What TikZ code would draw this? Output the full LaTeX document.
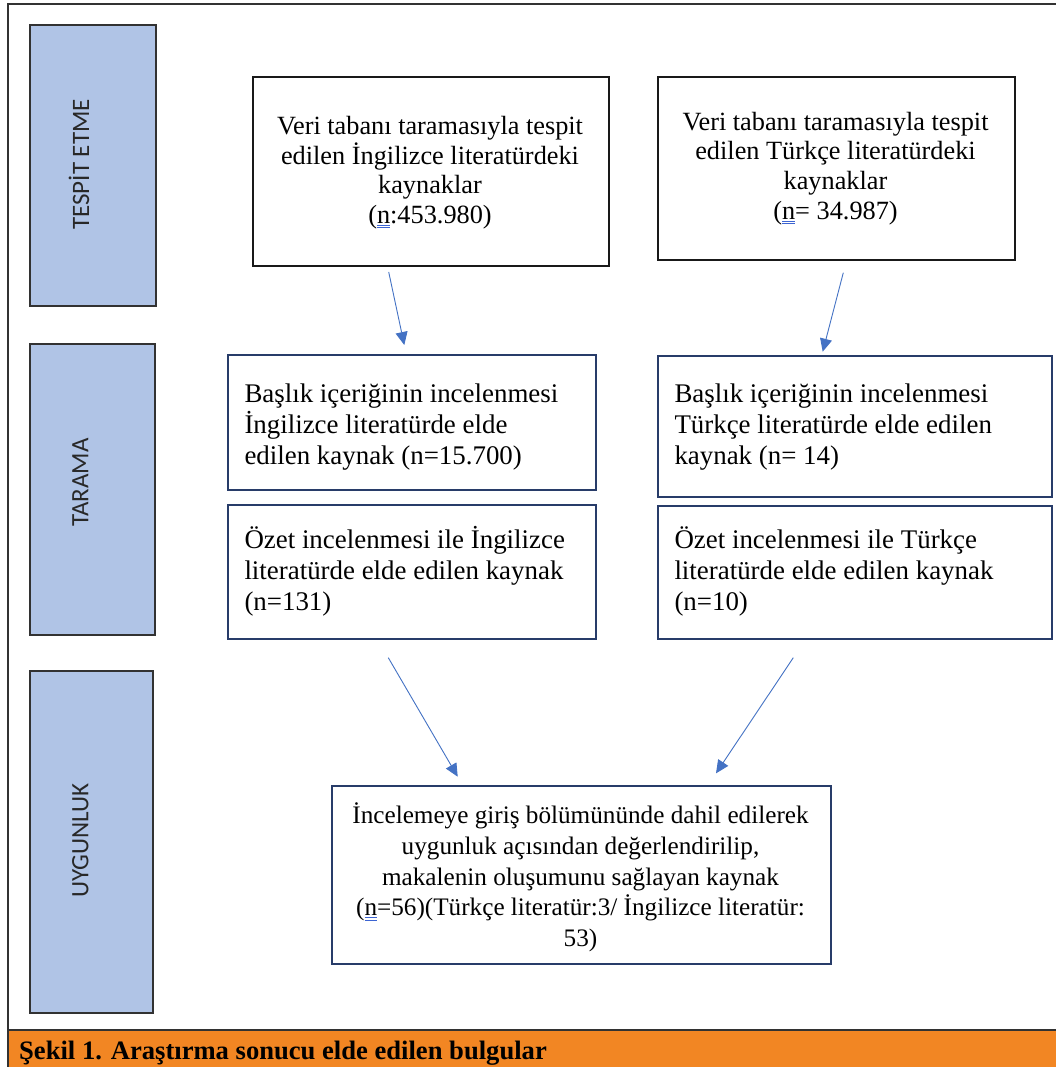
\documentclass[tikz,border=0pt]{standalone}
\usepackage{fontspec}
\setmainfont{Liberation Serif}
\newfontfamily\sidefont{Carlito}
\usetikzlibrary{arrows.meta,calc}
\definecolor{sidefill}{RGB}{176,196,230}
\definecolor{navy}{RGB}{40,60,105}
\definecolor{arrblue}{RGB}{68,114,196}
\definecolor{capor}{RGB}{242,134,35}
\definecolor{framec}{RGB}{50,50,50}
\definecolor{ulblue}{RGB}{60,100,210}
\definecolor{sidetext}{RGB}{40,40,40}
\newcommand{\dblu}[1]{\setbox0=\hbox{#1}\rlap{\color{ulblue}\rule[-2.4pt]{\wd0}{1pt}}\rlap{\color{ulblue}\rule[-4.8pt]{\wd0}{1pt}}\box0}
\begin{document}
\begin{tikzpicture}[x=1pt,y=-1pt,
  sidebox/.style={draw=framec,line width=1.8pt,fill=sidefill,inner sep=0pt,anchor=north west},
  sidelabel/.style={rotate=90,anchor=base,inner sep=0pt,text=sidetext,font=\sidefont\fontsize{25}{25}\selectfont},
  topbox/.style={draw=black!90,line width=2pt,fill=white,inner sep=0pt,anchor=north west},
  midbox/.style={draw=navy,line width=2pt,fill=white,inner sep=0pt,anchor=north west},
  toptext/.style={anchor=north,align=center,inner sep=0pt,font=\fontsize{26.3}{29.8}\selectfont},
  midtext/.style={anchor=north west,align=left,inner sep=0pt,font=\fontsize{26.9}{31}\selectfont},
  bottext/.style={anchor=north,align=center,inner sep=0pt,font=\fontsize{25.2}{30.7}\selectfont},
  arr/.style={draw=arrblue,line width=0.9pt,-{Triangle[length=13pt,width=12pt]}}]
\useasboundingbox (0,0) rectangle (1056,1067);
\fill[white] (0,0) rectangle (1056,1067);
% frame and caption band
\fill[capor] (8,1030) rectangle (1056,1067);
\draw[framec,line width=2pt] (1060,4) -- (8,4) -- (8,1067);
\draw[framec,line width=2pt] (8,1030) -- (1060,1030);
\node[anchor=base west,inner sep=0pt,font=\bfseries\fontsize{26.6}{30}\selectfont] (cap) at (19,1059) {Şekil 1. Araştırma sonucu elde edilen bulgular};
% side boxes
\node[sidebox,minimum width=126pt,minimum height=281pt] (s1) at (29,24) {};
\node[sidebox,minimum width=125pt,minimum height=291pt] (s2) at (29,343) {};
\node[sidebox,minimum width=123pt,minimum height=342pt] (s3) at (29,670) {};
\node[sidelabel] (l1) at (89,164.5) {TESPİT ETME};
\node[sidelabel] (l2) at (88.3,482.7) {TARAMA};
\node[sidelabel] (l3) at (88.3,840.8) {UYGUNLUK};
% boxes
\node[topbox,minimum width=356pt,minimum height=189pt] (A) at (252,76) {};
\node[topbox,minimum width=357pt,minimum height=183pt] (B) at (657,76) {};
\node[midbox,minimum width=368pt,minimum height=135pt] (C) at (227,354) {};
\node[midbox,minimum width=368pt,minimum height=134pt] (D) at (227,504) {};
\node[midbox,minimum width=394pt,minimum height=141pt] (E) at (657,355) {};
\node[midbox,minimum width=394pt,minimum height=133pt] (F) at (657,505) {};
\node[midbox,minimum width=499pt,minimum height=178pt] (G) at (331,785) {};
% texts
\node[toptext] (tA) at (430,108) {\rule{0pt}{26pt}Veri tabanı taramasıyla tespit\\edilen İngilizce literatürdeki\\kaynaklar\\(\dblu{n}:453.980)};
\node[toptext] (tB) at (835.5,104) {\rule{0pt}{26pt}Veri tabanı taramasıyla tespit\\edilen Türkçe literatürdeki\\kaynaklar\\(\dblu{n}= 34.987)};
\node[midtext] (tC) at (244.3,376) {\rule{0pt}{26pt}Başlık içeriğinin incelenmesi\\İngilizce literatürde elde\\edilen kaynak (n=15.700)};
\node[midtext] (tD) at (244.3,522) {\rule{0pt}{26pt}Özet incelenmesi ile İngilizce\\literatürde elde edilen kaynak\\(n=131)};
\node[midtext] (tE) at (674.3,376) {\rule{0pt}{26pt}Başlık içeriğinin incelenmesi\\Türkçe literatürde elde edilen\\kaynak (n= 14)};
\node[midtext] (tF) at (674.3,522) {\rule{0pt}{26pt}Özet incelenmesi ile Türkçe\\literatürde elde edilen kaynak\\(n=10)};
\node[bottext] (tG) at (580.5,797.5) {\rule{0pt}{26pt}İncelemeye giriş bölümününde dahil edilerek\\uygunluk açısından değerlendirilip,\\makalenin oluşumunu sağlayan kaynak\\(\dblu{n}=56)(Türkçe literatür:3/ İngilizce literatür:\\53)};
% arrows
\draw[arr] ([xshift=-42.3pt,yshift=-5pt]A.south) -- ([xshift=-7.7pt,yshift=9pt]C.north);
\draw[arr] ([xshift=6.8pt,yshift=-11.7pt]B.south) -- ([xshift=-32.3pt,yshift=3.3pt]E.north);
\draw[arr] ([xshift=-23.7pt,yshift=-17.7pt]D.south) -- ([xshift=-123.8pt,yshift=8.3pt]G.north);
\draw[arr] ([xshift=-61.7pt,yshift=-17.7pt]F.south) -- ([xshift=134.5pt,yshift=11.7pt]G.north);
\end{tikzpicture}
\end{document}
